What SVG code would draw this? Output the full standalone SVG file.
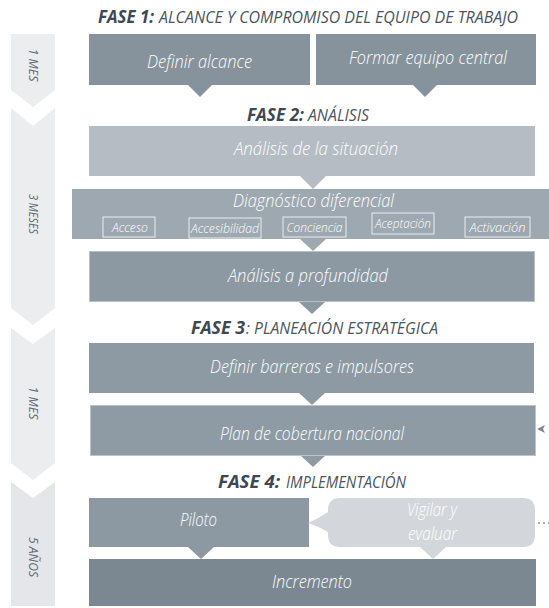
<svg xmlns="http://www.w3.org/2000/svg" width="549" height="608" viewBox="0 0 549 608">
<style>
.tl{fill:#ecedef}
.tl4{fill:#e4e6e9}
.tlt{font-family:"Open Sans","Liberation Sans",sans-serif;font-style:italic;font-size:12.5px;fill:#5d6975;text-anchor:middle}
.ph{font-family:"Open Sans","Liberation Sans",sans-serif;font-style:italic;font-size:17px;fill:#4a5560}
.phb{font-weight:bold;fill:#3d4853}
.bt{font-family:"Open Sans","Liberation Sans",sans-serif;font-style:italic;font-weight:300;font-size:18px;fill:#ffffff}
.st{font-family:"Open Sans","Liberation Sans",sans-serif;font-style:italic;font-weight:300;font-size:12.5px;fill:#ffffff;text-anchor:middle}
.sb{fill:none;stroke:#e9ecef;stroke-width:1}
</style>
<g id="timeline">
<polygon class="tl" points="11,34 55,34 55,90 33,107 11,90"/>
<polygon class="tl" points="11,108 33,126 55,108 55,308 33,325 11,308"/>
<polygon class="tl" points="11,328 33,344 55,328 55,463 33,480 11,463"/>
<polygon class="tl4" points="11,482 33,498 55,482 55,606 11,606"/>
<text class="tlt" transform="translate(29,65) rotate(90)" textLength="33" lengthAdjust="spacingAndGlyphs">1 MES</text>
<text class="tlt" transform="translate(29,214) rotate(90)" textLength="40" lengthAdjust="spacingAndGlyphs">3 MESES</text>
<text class="tlt" transform="translate(29,403) rotate(90)" textLength="33" lengthAdjust="spacingAndGlyphs">1 MES</text>
<text class="tlt" transform="translate(29,557) rotate(90)" textLength="40" lengthAdjust="spacingAndGlyphs">5 AÑOS</text>
</g>
<g id="titles">
<text class="ph phb" x="98" y="23" textLength="56" lengthAdjust="spacingAndGlyphs">FASE 1:</text>
<text class="ph" x="159" y="23" textLength="359" lengthAdjust="spacingAndGlyphs">ALCANCE Y COMPROMISO DEL EQUIPO DE TRABAJO</text>
<text class="ph phb" x="247" y="121" textLength="57" lengthAdjust="spacingAndGlyphs">FASE 2:</text>
<text class="ph" x="308" y="121" textLength="61" lengthAdjust="spacingAndGlyphs">ANÁLISIS</text>
<text class="ph phb" x="191" y="334" textLength="54" lengthAdjust="spacingAndGlyphs">FASE 3</text>
<text class="ph" x="246" y="334" textLength="192" lengthAdjust="spacingAndGlyphs">: PLANEACIÓN ESTRATÉGICA</text>
<text class="ph phb" x="218" y="488" textLength="62" lengthAdjust="spacingAndGlyphs">FASE 4:</text>
<text class="ph" x="286" y="488" textLength="120" lengthAdjust="spacingAndGlyphs">IMPLEMENTACIÓN</text>
</g>
<g id="connectors">
<polygon fill="#86929c" points="187,84 213,84 200,97"/>
<polygon fill="#86929c" points="412,84 438,84 425,97"/>
<polygon fill="#b5bcc3" points="300,176 326,176 313,189"/>
<polygon fill="#9ea8b0" points="300,239 326,239 313,251"/>
<polygon fill="#8c99a2" points="299,302 325,302 312,314"/>
<polygon fill="#8d9aa3" points="299,393 325,393 312,405"/>
<polygon fill="#8e9ba4" points="300,455 326,455 313,467"/>
<polygon fill="#8d99a2" points="188,547 214,547 201,559"/>
<polygon fill="#d3d7db" points="420,547 446,547 433,559"/>
<polygon fill="#7a8893" points="537,429 545,425 543,429 545,433"/>
<line x1="538" y1="523" x2="549" y2="523" stroke="#8a96a0" stroke-width="1.6" stroke-dasharray="2,3"/>
</g>
<g id="definir-alcance">
<rect x="89" y="34" width="221" height="51" fill="#86929c"/>
<text class="bt" x="147" y="68" textLength="105" lengthAdjust="spacingAndGlyphs">Definir alcance</text>
</g>
<g id="formar-equipo">
<rect x="316" y="34" width="220" height="51" fill="#86929c"/>
<text class="bt" x="349" y="64" textLength="158" lengthAdjust="spacingAndGlyphs">Formar equipo central</text>
</g>
<g id="analisis-situacion">
<rect x="89" y="126" width="446" height="50" fill="#b5bcc3"/>
<text class="bt" x="234" y="155" textLength="164" lengthAdjust="spacingAndGlyphs">Análisis de la situación</text>
</g>
<g id="diagnostico">
<rect x="72" y="189" width="477" height="50" fill="#9ea8b0"/>
<text class="bt" x="233" y="207" font-size="17" textLength="161" lengthAdjust="spacingAndGlyphs">Diagnóstico diferencial</text>
<rect class="sb" x="103" y="217" width="52" height="20"/>
<text class="st" x="130" y="232" textLength="36" lengthAdjust="spacingAndGlyphs">Acceso</text>
<rect class="sb" x="189" y="218" width="72" height="20"/>
<text class="st" x="225" y="233" textLength="68" lengthAdjust="spacingAndGlyphs">Accesibilidad</text>
<rect class="sb" x="283" y="217" width="63" height="20"/>
<text class="st" x="314.5" y="232" textLength="56" lengthAdjust="spacingAndGlyphs">Conciencia</text>
<rect class="sb" x="372" y="213" width="62" height="21"/>
<text class="st" x="403" y="228" textLength="56" lengthAdjust="spacingAndGlyphs">Aceptación</text>
<rect class="sb" x="465" y="217" width="65" height="20"/>
<text class="st" x="497.5" y="232" textLength="56" lengthAdjust="spacingAndGlyphs">Activación</text>
</g>
<g id="analisis-profundidad">
<rect x="89.5" y="251.5" width="445" height="50" fill="#8c99a2" stroke="#b9c1c7" stroke-width="1"/>
<text class="bt" x="228" y="282" textLength="160" lengthAdjust="spacingAndGlyphs">Análisis a profundidad</text>
</g>
<g id="definir-barreras">
<rect x="89" y="343" width="445" height="50" fill="#8d9aa3"/>
<text class="bt" x="210" y="373" textLength="204" lengthAdjust="spacingAndGlyphs">Definir barreras e impulsores</text>
</g>
<g id="plan-cobertura">
<rect x="90.5" y="405.5" width="445" height="50" fill="#8e9ba4" stroke="#bcc4ca" stroke-width="1"/>
<text class="bt" x="220" y="440" textLength="184" lengthAdjust="spacingAndGlyphs">Plan de cobertura nacional</text>
</g>
<g id="piloto">
<rect x="89" y="498" width="220" height="49" fill="#8d99a2"/>
<text class="bt" x="180" y="526" textLength="37" lengthAdjust="spacingAndGlyphs">Piloto</text>
</g>
<g id="vigilar-evaluar">
<path d="M340 498 H523 Q535 498 535 510 V535 Q535 547 523 547 H340 Q328 547 328 535 V532 Q318 526 308 523 Q318 519 328 512 V510 Q328 498 340 498 Z" fill="#d3d7db"/>
<text class="bt" x="407" y="516" textLength="50" lengthAdjust="spacingAndGlyphs">Vigilar y</text>
<text class="bt" x="408" y="540" textLength="49" lengthAdjust="spacingAndGlyphs">evaluar</text>
</g>
<g id="incremento">
<rect x="89" y="559" width="447" height="47" fill="#7b8891"/>
<text class="bt" x="272" y="588" textLength="80" lengthAdjust="spacingAndGlyphs">Incremento</text>
</g>
</svg>
